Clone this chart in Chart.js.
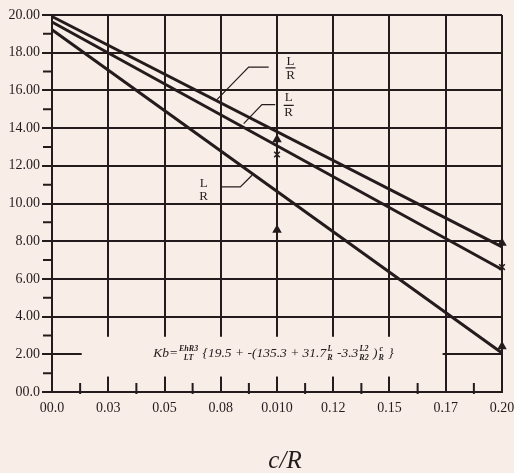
<!DOCTYPE html>
<html>
<head>
<meta charset="utf-8">
<script src="https://cdn.jsdelivr.net/npm/chart.js@4.4.0/dist/chart.umd.min.js"></script>
<style>
    html, body { margin: 0; padding: 0; background: #f9ede8; }
    canvas { display: block; }
</style>
</head>
<body>
<canvas id="chartKb" width="514" height="473"></canvas>
<script>
// datos
const cR = [0, 0.2];
const kbSuperior = [19.92, 7.70];
const kbMedio = [19.63, 6.50];
const kbInferior = [19.22, 2.07];

const cRMarcas = [0.1, 0.2];
const marcasSuperior = [13.4, 7.9];
const marcasMedio = [12.6, 6.63];
const marcasInferior = [8.6, 2.42];

const xTicks = [0, 0.025, 0.05, 0.075, 0.1, 0.125, 0.15, 0.175, 0.2];
const xTickLabels = ['00.0', '0.03', '0.05', '0.08', '0.010', '0.12', '0.15', '0.17', '0.20'];
const yTicks = [0, 2, 4, 6, 8, 10, 12, 14, 16, 18, 20];
const yTickLabels = ['00.0', '2.00', '4.00', '6.00', '8.00', '10.00', '12.00', '14.00', '16.00', '18.00', '20.00'];

const tinta = '#241c1c';
const fondo = '#f9ede8';
const serif = "'Liberation Serif', 'DejaVu Serif', serif";

const puntos = (xs, ys) => xs.map((v, i) => ({ x: v, y: ys[i] }));

// etiquetas L/R con su linea guia (en valores de datos)
const etiquetasLR = [
    { x: 0.1060, yL: 17.53, yR: 16.80, barra: 17.2, guia: [[0.0963, 17.24], [0.0874, 17.24], [0.0733, 15.51]] },
    { x: 0.1052, yL: 15.60, yR: 14.84, barra: 15.21, guia: [[0.0992, 15.25], [0.0933, 15.25], [0.0852, 14.24]] },
    { x: 0.0674, yL: 11.06, yR: 10.39, barra: null, guia: [[0.0748, 10.88], [0.0837, 10.88], [0.0889, 11.50]] }
];

const extras = {
    id: 'extras',
    beforeDatasetsDraw(chart) {
        const { ctx, chartArea, scales: { x, y } } = chart;
        ctx.save();

        // recuadro de la formula
        const x0 = x.getPixelForValue(0.0132), x1 = x.getPixelForValue(0.1736);
        const y0 = y.getPixelForValue(2.93), y1 = y.getPixelForValue(0.82);
        ctx.fillStyle = fondo;
        ctx.fillRect(x0, y0, x1 - x0, y1 - y0);

        // ticks menores
        ctx.strokeStyle = tinta;
        ctx.lineWidth = 2;
        ctx.beginPath();
        for (let i = 0; i < yTicks.length - 1; i++) {
            const py = y.getPixelForValue((yTicks[i] + yTicks[i + 1]) / 2);
            ctx.moveTo(chartArea.left - 9, py);
            ctx.lineTo(chartArea.left, py);
        }
        for (let i = 0; i < xTicks.length - 1; i++) {
            const px = x.getPixelForValue((xTicks[i] + xTicks[i + 1]) / 2);
            ctx.moveTo(px, chartArea.bottom - 9);
            ctx.lineTo(px, chartArea.bottom + 2);
        }
        ctx.stroke();

        dibujarFormula(ctx, x.getPixelForValue(0.0984), y.getPixelForValue(2.05));
        ctx.restore();
    },
    afterDatasetsDraw(chart) {
        const { ctx, scales: { x, y } } = chart;
        ctx.save();
        ctx.fillStyle = tinta;
        ctx.strokeStyle = tinta;
        ctx.font = '13px ' + serif;
        ctx.textAlign = 'center';
        ctx.textBaseline = 'middle';
        etiquetasLR.forEach(et => {
            const px = x.getPixelForValue(et.x);
            ctx.fillText('L', px, y.getPixelForValue(et.yL));
            ctx.fillText('R', px, y.getPixelForValue(et.yR));
            ctx.lineWidth = 1.2;
            ctx.beginPath();
            if (et.barra !== null) {
                const by = y.getPixelForValue(et.barra);
                ctx.moveTo(px - 5, by);
                ctx.lineTo(px + 5, by);
            }
            et.guia.forEach((p, i) => {
                const gx = x.getPixelForValue(p[0]), gy = y.getPixelForValue(p[1]);
                if (i === 0) ctx.moveTo(gx, gy); else ctx.lineTo(gx, gy);
            });
            ctx.stroke();
        });
        ctx.restore();
    },
    afterDraw(chart) {
        const { ctx } = chart;
        ctx.save();
        ctx.fillStyle = tinta;
        ctx.font = 'italic 25px ' + serif;
        ctx.textAlign = 'center';
        ctx.textBaseline = 'middle';
        ctx.fillText('c/R', 285, 461);
        ctx.restore();
    }
};

function dibujarFormula(ctx, cx, cy) {
    const grande = 'italic 13.5px ' + serif;
    const chica = 'italic bold 8px ' + serif;
    const partes = [
        { t: 'Kb=' },
        { n: 'EhR3', d: 'LT' },
        { t: ' {19.5 + -(135.3 + 31.7' },
        { n: 'L', d: 'R' },
        { t: ' -3.3' },
        { n: 'L2', d: 'R2' },
        { t: ' )' },
        { n: 'c', d: 'R' },
        { t: ' }' }
    ];
    const anchos = partes.map(p => {
        if (p.t) { ctx.font = grande; return ctx.measureText(p.t).width; }
        ctx.font = chica;
        return Math.max(ctx.measureText(p.n).width, ctx.measureText(p.d).width) + 2;
    });
    const total = anchos.reduce((a, b) => a + b, 0);
    let px = cx - total / 2;
    ctx.fillStyle = tinta;
    ctx.textBaseline = 'middle';
    partes.forEach((p, i) => {
        if (p.t) {
            ctx.font = grande;
            ctx.textAlign = 'left';
            ctx.fillText(p.t, px, cy);
        } else {
            ctx.font = chica;
            ctx.textAlign = 'center';
            ctx.fillText(p.n, px + anchos[i] / 2, cy - 4);
            ctx.fillText(p.d, px + anchos[i] / 2, cy + 4.5);
        }
        px += anchos[i];
    });
}

const linea = data => ({
    data, borderColor: tinta, borderWidth: 3, pointRadius: 0, tension: 0, clip: false
});
const marca = (data, estilo) => ({
    data, showLine: false, pointStyle: estilo, pointRadius: 4,
    backgroundColor: tinta, borderColor: tinta, borderWidth: 1.5, clip: false
});

new Chart(document.getElementById('chartKb'), {
    type: 'line',
    data: {
        datasets: [
            linea(puntos(cR, kbSuperior)),
            linea(puntos(cR, kbMedio)),
            linea(puntos(cR, kbInferior)),
            marca(puntos(cRMarcas, marcasSuperior), 'triangle'),
            marca(puntos(cRMarcas, marcasMedio), 'crossRot'),
            marca(puntos(cRMarcas, marcasInferior), 'triangle')
        ]
    },
    options: {
        responsive: false,
        animation: false,
        layout: { padding: { top: 15, right: 12, left: 0, bottom: 0 } },
        plugins: { legend: { display: false }, tooltip: { enabled: false } },
        scales: {
            x: {
                type: 'linear', min: 0, max: 0.2,
                afterBuildTicks: s => { s.ticks = xTicks.map(v => ({ value: v })); },
                afterFit: s => { s.height = 81; s.paddingLeft = 0; s.paddingRight = 0; },
                grid: { color: tinta, lineWidth: 2, drawTicks: false },
                border: { color: tinta, width: 2 },
                ticks: {
                    color: tinta, padding: 8, maxRotation: 0, autoSkip: false,
                    font: { family: serif, size: 14 },
                    callback: (v, i) => xTickLabels[i]
                }
            },
            y: {
                type: 'linear', min: 0, max: 20,
                afterBuildTicks: s => { s.ticks = yTicks.map(v => ({ value: v })); },
                afterFit: s => { s.width = 52; s.paddingTop = 0; s.paddingBottom = 0; },
                grid: { color: tinta, lineWidth: 2, tickLength: 10 },
                border: { color: tinta, width: 2 },
                ticks: {
                    color: tinta, padding: 2, autoSkip: false,
                    font: { family: serif, size: 14 },
                    callback: (v, i) => yTickLabels[i]
                }
            }
        }
    },
    plugins: [extras]
});
</script>
</body>
</html>
